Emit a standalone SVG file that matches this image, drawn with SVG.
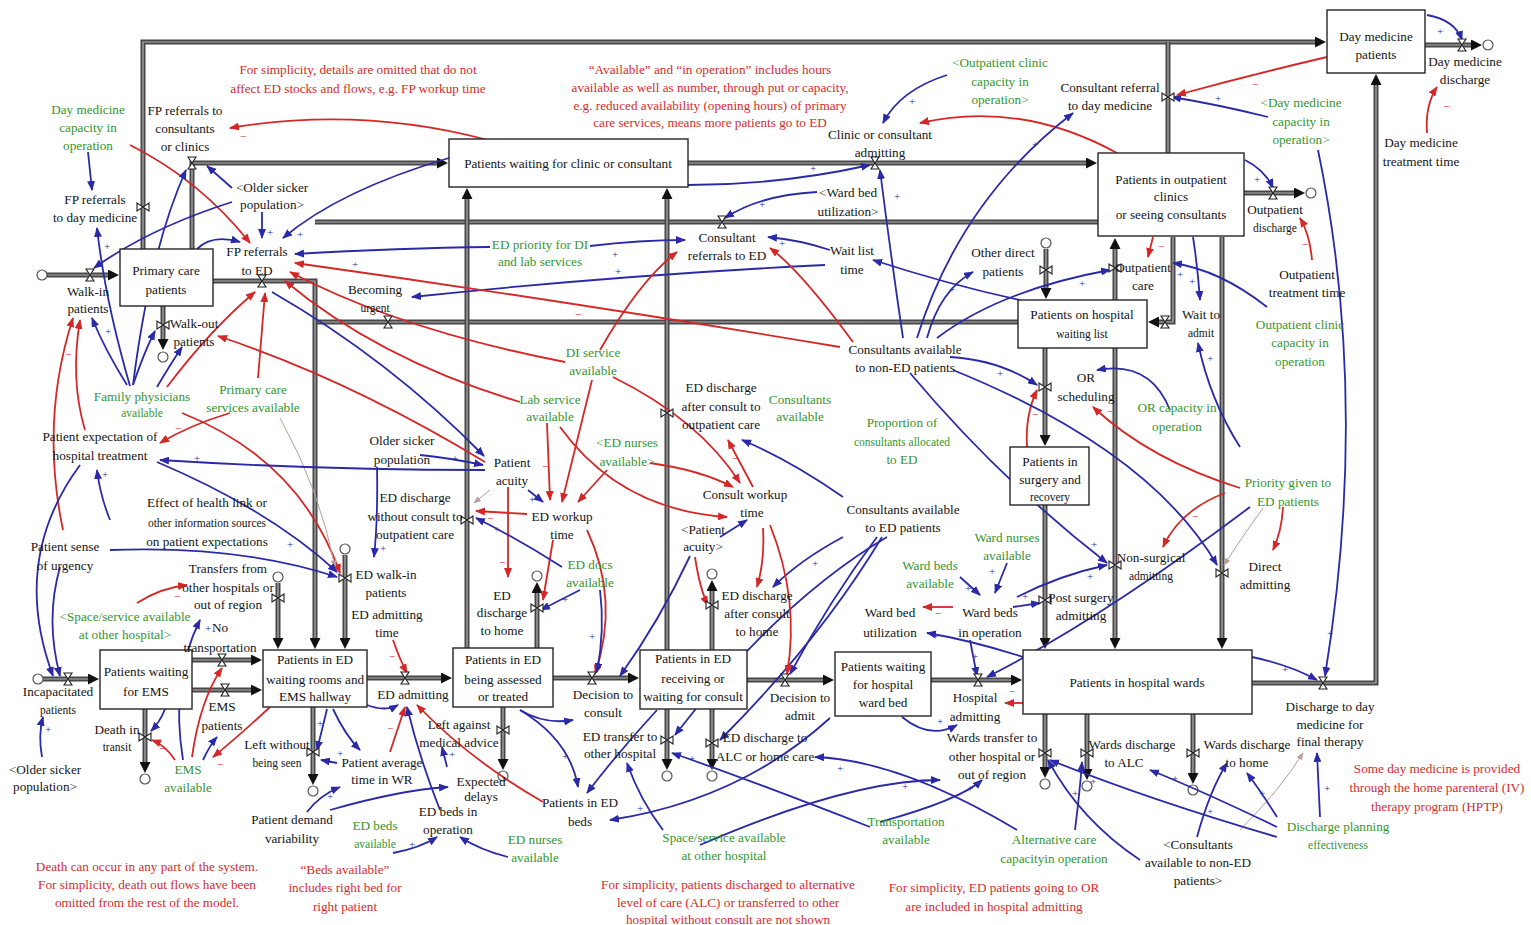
<svg xmlns="http://www.w3.org/2000/svg" width="1531" height="925" viewBox="0 0 1531 925">
<style>
text{font-family:"Liberation Serif","Times New Roman",serif;font-size:13.2px;text-anchor:middle;fill:#141414}
.g{fill:#35952f}
.n{fill:#d42c2c;font-size:13.2px}
.sm{font-size:11.5px}
.stock{fill:#fff;stroke:#262626;stroke-width:1.4}
.po{fill:none;stroke:#474747;stroke-width:5;marker-end:url(#ap)}
.pn{fill:none;stroke:#474747;stroke-width:5}
.pi{fill:none;stroke:#b4b4b4;stroke-width:1.2;marker-end:none}
.cl{fill:#fff;stroke:#555;stroke-width:1.2}
.lb{fill:none;stroke:#2a2aa8;stroke-width:1.8;marker-end:url(#ab)}
.lr{fill:none;stroke:#d42828;stroke-width:1.8;marker-end:url(#ar)}
.lg{fill:none;stroke:#b89c9c;stroke-width:1;marker-end:url(#ag)}
.sp{fill:#2a2aa8;font-size:11px}
.sn{fill:#d42828;font-size:11px}
.vl{fill:#fff;stroke:#1e1e1e;stroke-width:1.1}
</style>
<defs>
<marker id="ab" viewBox="0 0 10 8" refX="9" refY="4" markerWidth="10" markerHeight="8" markerUnits="userSpaceOnUse" orient="auto"><path d="M0,0 L10,4 L0,8 z" fill="#2a2aa8"/></marker>
<marker id="ar" viewBox="0 0 10 8" refX="9" refY="4" markerWidth="10" markerHeight="8" markerUnits="userSpaceOnUse" orient="auto"><path d="M0,0 L10,4 L0,8 z" fill="#d42828"/></marker>
<marker id="ag" viewBox="0 0 10 8" refX="9" refY="4" markerWidth="8" markerHeight="6" markerUnits="userSpaceOnUse" orient="auto"><path d="M0,0 L10,4 L0,8 z" fill="#b89c9c"/></marker>
<marker id="ap" viewBox="0 0 10 10" refX="0" refY="5" markerWidth="12" markerHeight="11" markerUnits="userSpaceOnUse" orient="auto"><path d="M0,0 L10,5 L0,10 z" fill="#111"/></marker>
<path id="vh" d="M-4,-6 H4 L-4,6 H4 Z"/>
<path id="vv" d="M-6,-4 V4 L6,-4 V4 Z"/>
<path id="p1" d="M47,275 H108"/>
<path id="p2" d="M163,306 V339"/>
<path id="p3" d="M143,249 V42 H1315"/>
<path id="p4" d="M192,249 V163 H437"/>
<path id="p5" d="M213,281 H315 V638"/>
<path id="p6" d="M688,163 H1086"/>
<path id="p7" d="M1098,222 H315"/>
<path id="p8" d="M1018,322 H315"/>
<path id="p9" d="M467,648 V199"/>
<path id="p10" d="M667,650 V199"/>
<path id="p11" d="M1168,153 V42"/>
<path id="p12" d="M1425,45 H1471"/>
<path id="p13" d="M1244,193 H1294"/>
<path id="p14" d="M1046,249 V288"/>
<path id="p15" d="M1115,300 V249"/>
<path id="p16" d="M1173,237 V322 H1159"/>
<path id="p17" d="M1045,348 V435"/>
<path id="p18" d="M1045,505 V638"/>
<path id="p19" d="M1115,348 V638"/>
<path id="p20" d="M1222,237 V638"/>
<path id="p21" d="M1252,683 H1376 V85"/>
<path id="p22" d="M43,679 H88"/>
<path id="p23" d="M192,660 H251"/>
<path id="p24" d="M192,690 H251"/>
<path id="p25" d="M145,709 V762"/>
<path id="p26" d="M278,583 V638"/>
<path id="p27" d="M345,555 V638"/>
<path id="p28" d="M313,707 V774"/>
<path id="p29" d="M367,678 H441"/>
<path id="p30" d="M503,707 V759"/>
<path id="p31" d="M537,648 V593"/>
<path id="p32" d="M553,678 H628"/>
<path id="p33" d="M712,650 V591"/>
<path id="p34" d="M667,709 V759"/>
<path id="p35" d="M712,709 V759"/>
<path id="p36" d="M747,680 H823"/>
<path id="p37" d="M931,680 H1011"/>
<path id="p38" d="M1045,714 V767"/>
<path id="p39" d="M1087,714 V769"/>
<path id="p40" d="M1193,714 V773"/>
</defs>
<rect width="1531" height="925" fill="#fff"/>

<g id="pipes">
<use href="#p3" class="po"/><use href="#p3" class="pi"/>
<use href="#p7" class="pn"/><use href="#p7" class="pi"/>
<use href="#p8" class="pn"/><use href="#p8" class="pi"/>
<use href="#p11" class="pn"/><use href="#p11" class="pi"/>
<use href="#p1" class="po"/><use href="#p1" class="pi"/>
<use href="#p2" class="po"/><use href="#p2" class="pi"/>
<use href="#p4" class="po"/><use href="#p4" class="pi"/>
<use href="#p5" class="po"/><use href="#p5" class="pi"/>
<use href="#p6" class="po"/><use href="#p6" class="pi"/>
<use href="#p9" class="po"/><use href="#p9" class="pi"/>
<use href="#p10" class="po"/><use href="#p10" class="pi"/>
<use href="#p12" class="po"/><use href="#p12" class="pi"/>
<use href="#p13" class="po"/><use href="#p13" class="pi"/>
<use href="#p14" class="po"/><use href="#p14" class="pi"/>
<use href="#p15" class="po"/><use href="#p15" class="pi"/>
<use href="#p16" class="po"/><use href="#p16" class="pi"/>
<use href="#p17" class="po"/><use href="#p17" class="pi"/>
<use href="#p18" class="po"/><use href="#p18" class="pi"/>
<use href="#p19" class="po"/><use href="#p19" class="pi"/>
<use href="#p20" class="po"/><use href="#p20" class="pi"/>
<use href="#p21" class="po"/><use href="#p21" class="pi"/>
<use href="#p22" class="po"/><use href="#p22" class="pi"/>
<use href="#p23" class="po"/><use href="#p23" class="pi"/>
<use href="#p24" class="po"/><use href="#p24" class="pi"/>
<use href="#p25" class="po"/><use href="#p25" class="pi"/>
<use href="#p26" class="po"/><use href="#p26" class="pi"/>
<use href="#p27" class="po"/><use href="#p27" class="pi"/>
<use href="#p28" class="po"/><use href="#p28" class="pi"/>
<use href="#p29" class="po"/><use href="#p29" class="pi"/>
<use href="#p30" class="po"/><use href="#p30" class="pi"/>
<use href="#p31" class="po"/><use href="#p31" class="pi"/>
<use href="#p32" class="po"/><use href="#p32" class="pi"/>
<use href="#p33" class="po"/><use href="#p33" class="pi"/>
<use href="#p34" class="po"/><use href="#p34" class="pi"/>
<use href="#p35" class="po"/><use href="#p35" class="pi"/>
<use href="#p36" class="po"/><use href="#p36" class="pi"/>
<use href="#p37" class="po"/><use href="#p37" class="pi"/>
<use href="#p38" class="po"/><use href="#p38" class="pi"/>
<use href="#p39" class="po"/><use href="#p39" class="pi"/>
<use href="#p40" class="po"/><use href="#p40" class="pi"/>
<g class="cl">
<circle cx="42" cy="275" r="5"/><circle cx="163" cy="357" r="5"/><circle cx="1488" cy="45" r="5"/><circle cx="1311" cy="193" r="5"/><circle cx="1046" cy="243" r="5"/><circle cx="38" cy="679" r="5"/><circle cx="145" cy="779" r="5"/><circle cx="278" cy="577" r="5"/><circle cx="345" cy="549" r="5"/><circle cx="313" cy="791" r="5"/><circle cx="503" cy="776" r="5"/><circle cx="537" cy="576" r="5"/><circle cx="712" cy="574" r="5"/><circle cx="667" cy="776" r="5"/><circle cx="712" cy="776" r="5"/><circle cx="1045" cy="784" r="5"/><circle cx="1087" cy="786" r="5"/><circle cx="1193" cy="790" r="5"/>
</g>
</g>

<g id="connectors">
<path class="lb" d="M88,152 L92,190"/>
<path class="lr" d="M130,145 Q200,180 250,243"/>
<path class="lr" d="M488,140 Q360,106 230,128"/>
<path class="lb" d="M133,385 Q150,250 186,170"/>
<path class="lb" d="M232,188 L207,166"/>
<path class="lb" d="M262,212 L262,238"/>
<path class="lb" d="M232,202 Q150,228 94,268"/>
<path class="lb" d="M130,386 Q105,300 97,228"/>
<path class="lb" d="M197,249 Q212,234 240,242"/>
<path class="lb" d="M449,158 Q340,190 283,238"/>
<path class="lb" d="M490,247 Q400,248 295,254"/>
<path class="lb" d="M590,246 Q640,240 685,240"/>
<path class="lb" d="M825,265 Q620,275 412,297"/>
<path class="lr" d="M840,347 Q560,300 295,263"/>
<path class="lr" d="M565,362 Q400,330 290,272"/>
<path class="lr" d="M520,402 Q380,360 285,281"/>
<path class="lr" d="M485,462 Q350,380 218,336"/>
<path class="lb" d="M272,292 Q390,360 484,456"/>
<path class="lr" d="M63,530 Q40,420 73,318"/>
<path class="lr" d="M85,430 Q70,380 80,320"/>
<path class="lb" d="M127,385 Q105,350 92,318"/>
<path class="lb" d="M133,385 Q145,350 155,331"/>
<path class="lb" d="M157,387 Q170,365 182,347"/>
<path class="lr" d="M167,387 Q210,330 255,292"/>
<path class="lr" d="M258,378 Q262,330 265,293"/>
<path class="lr" d="M230,413 Q190,425 160,443"/>
<path class="lr" d="M182,413 Q300,460 340,573"/>
<path class="lg" d="M280,418 Q320,490 335,567"/>
<path class="lb" d="M110,520 Q100,495 97,470"/>
<path class="lb" d="M157,462 Q270,510 337,572"/>
<path class="lb" d="M485,470 Q320,470 160,460"/>
<path class="lb" d="M110,550 Q240,545 337,577"/>
<path class="lb" d="M80,465 Q10,560 53,676"/>
<path class="lb" d="M60,567 Q45,620 60,676"/>
<path class="lb" d="M42,757 Q38,735 43,717"/>
<path class="lr" d="M137,603 Q160,588 187,585"/>
<path class="lb" d="M420,455 Q450,458 483,465"/>
<path class="lb" d="M377,467 Q378,520 374,557"/>
<path class="lb" d="M165,709 Q160,722 151,731"/>
<path class="lr" d="M175,760 Q165,745 152,740"/>
<path class="lb" d="M183,760 Q170,680 200,620"/>
<path class="lr" d="M192,757 Q200,700 222,668"/>
<path class="lb" d="M203,760 Q210,745 217,737"/>
<path class="lr" d="M270,707 Q240,735 213,757"/>
<path class="lb" d="M327,709 Q322,730 317,750"/>
<path class="lb" d="M337,763 L321,760"/>
<path class="lb" d="M333,709 Q345,735 360,750"/>
<path class="lb" d="M307,812 Q320,795 340,787"/>
<path class="lb" d="M330,810 Q400,790 448,787"/>
<path class="lb" d="M393,853 Q420,848 437,837"/>
<path class="lb" d="M508,857 Q480,850 460,837"/>
<path class="lb" d="M440,810 Q420,760 407,707"/>
<path class="lb" d="M447,767 L442,747"/>
<path class="lr" d="M393,640 Q400,660 407,673"/>
<path class="lr" d="M390,752 L405,707"/>
<path class="lb" d="M367,705 Q385,712 398,705"/>
<path class="lr" d="M543,802 Q470,760 417,705"/>
<path class="lb" d="M520,710 Q545,725 573,720"/>
<path class="lb" d="M520,710 Q570,740 578,787"/>
<path class="lb" d="M657,710 Q620,750 587,793"/>
<path class="lb" d="M830,718 Q740,800 610,820"/>
<path class="lr" d="M592,380 L562,502"/>
<path class="lr" d="M547,423 L550,500"/>
<path class="lr" d="M607,470 L578,502"/>
<path class="lb" d="M528,490 L543,502"/>
<path class="lr" d="M560,427 Q620,510 727,517"/>
<path class="lr" d="M650,463 Q700,470 733,487"/>
<path class="lr" d="M613,377 Q700,420 740,483"/>
<path class="lr" d="M753,487 L728,440"/>
<path class="lb" d="M720,537 L747,520"/>
<path class="lb" d="M843,497 Q790,460 742,440"/>
<path class="lb" d="M843,537 Q800,560 773,587"/>
<path class="lb" d="M877,537 Q830,600 790,674"/>
<path class="lb" d="M882,537 Q820,640 720,740"/>
<path class="lb" d="M887,537 Q780,600 675,735"/>
<path class="lr" d="M770,525 Q800,600 787,674"/>
<path class="lr" d="M763,528 Q765,560 757,587"/>
<path class="lr" d="M553,540 L543,600"/>
<path class="lr" d="M587,530 Q620,600 595,674"/>
<path class="lr" d="M527,514 L476,511"/>
<path class="lg" d="M490,490 L474,503"/>
<path class="lr" d="M508,487 L508,577"/>
<path class="lb" d="M562,567 Q520,540 476,518"/>
<path class="lb" d="M580,590 Q560,600 541,610"/>
<path class="lb" d="M600,590 Q605,630 597,672"/>
<path class="lb" d="M690,556 Q660,620 620,676"/>
<path class="lr" d="M695,557 Q700,590 708,605"/>
<path class="lr" d="M1117,153 Q1020,100 920,123"/>
<path class="lb" d="M947,75 Q900,90 883,123"/>
<path class="lb" d="M903,338 Q890,250 880,170"/>
<path class="lb" d="M917,338 Q960,200 1073,113"/>
<path class="lb" d="M927,338 Q940,290 973,272"/>
<path class="lb" d="M937,338 Q1000,290 1110,270"/>
<path class="lb" d="M1020,300 Q950,285 873,260"/>
<path class="lb" d="M830,250 Q800,240 768,237"/>
<path class="lb" d="M817,192 Q760,195 725,218"/>
<path class="lb" d="M688,185 Q780,185 870,165"/>
<path class="lr" d="M853,342 Q800,270 770,248"/>
<path class="lr" d="M600,350 Q640,280 677,252"/>
<path class="lr" d="M1027,447 Q1025,415 1037,390"/>
<path class="lb" d="M950,357 Q1000,360 1037,385"/>
<path class="lb" d="M1170,410 Q1150,360 1097,370"/>
<path class="lr" d="M1240,488 Q1150,460 1093,407"/>
<path class="lr" d="M1225,493 Q1180,510 1163,547"/>
<path class="lr" d="M1283,507 Q1282,530 1273,550"/>
<path class="lg" d="M1263,508 Q1240,540 1224,565"/>
<path class="lb" d="M910,373 Q1000,480 1107,563"/>
<path class="lb" d="M953,370 Q1150,450 1217,565"/>
<path class="lb" d="M1017,597 Q1060,575 1107,565"/>
<path class="lb" d="M1007,563 L995,593"/>
<path class="lb" d="M960,577 L980,595"/>
<path class="lr" d="M953,607 L923,607"/>
<path class="lb" d="M1013,607 L1040,603"/>
<path class="lb" d="M1023,657 Q970,640 927,633"/>
<path class="lb" d="M970,640 L977,676"/>
<path class="lb" d="M1250,507 Q1100,620 987,677"/>
<path class="lr" d="M1023,703 L1005,703"/>
<path class="lb" d="M902,717 Q930,740 957,725"/>
<path class="lb" d="M880,822 Q960,800 982,780"/>
<path class="lb" d="M700,845 Q850,780 940,780"/>
<path class="lb" d="M870,827 Q750,780 672,753"/>
<path class="lb" d="M663,830 Q640,800 627,763"/>
<path class="lb" d="M1017,830 Q900,760 815,757"/>
<path class="lb" d="M1075,830 Q1080,790 1082,762"/>
<path class="lb" d="M1197,837 Q1210,790 1227,763"/>
<path class="lb" d="M1140,860 Q1080,820 1048,760"/>
<path class="lg" d="M1240,830 Q1280,790 1303,753"/>
<path class="lb" d="M1320,817 L1317,753"/>
<path class="lb" d="M1277,817 Q1260,790 1247,773"/>
<path class="lb" d="M1277,827 Q1200,790 1150,770"/>
<path class="lb" d="M1277,837 Q1150,800 1050,760"/>
<path class="lb" d="M1252,657 Q1290,665 1317,680"/>
<path class="lb" d="M1318,150 Q1370,400 1325,676"/>
<path class="lb" d="M1268,117 Q1220,105 1172,97"/>
<path class="lr" d="M1327,57 Q1250,75 1177,95"/>
<path class="lb" d="M1427,15 Q1455,20 1462,40"/>
<path class="lr" d="M1427,133 Q1425,105 1437,87"/>
<path class="lb" d="M1245,160 Q1265,170 1273,188"/>
<path class="lr" d="M1312,260 Q1310,235 1300,218"/>
<path class="lr" d="M1153,237 L1148,257"/>
<path class="lb" d="M1193,237 Q1198,270 1200,300"/>
<path class="lb" d="M1267,307 Q1220,270 1173,263"/>
<path class="lb" d="M1240,447 Q1210,400 1198,343"/>
</g>

<g id="polarities">
<text class="sn" x="243" y="140">−</text><text class="sp" x="270" y="236">+</text><text class="sp" x="107" y="250">+</text><text class="sp" x="300" y="238">+</text><text class="sp" x="355" y="268">+</text><text class="sp" x="615" y="258">+</text><text class="sp" x="618" y="275">+</text><text class="sn" x="578" y="318">−</text><text class="sn" x="68" y="358">−</text><text class="sp" x="108" y="335">+</text><text class="sn" x="178" y="432">−</text><text class="sp" x="105" y="478">+</text><text class="sp" x="197" y="462">+</text><text class="sp" x="290" y="548">+</text><text class="sp" x="48" y="733">+</text><text class="sn" x="177" y="600">−</text><text class="sp" x="455" y="462">+</text><text class="sp" x="383" y="552">+</text><text class="sn" x="162" y="752">−</text><text class="sp" x="208" y="632">+</text><text class="sn" x="220" y="768">−</text><text class="sp" x="320" y="727">+</text><text class="sp" x="340" y="757">+</text><text class="sp" x="330" y="800">+</text><text class="sp" x="412" y="848">+</text><text class="sp" x="452" y="758">+</text><text class="sn" x="392" y="660">−</text><text class="sn" x="390" y="732">−</text><text class="sp" x="565" y="760">+</text><text class="sp" x="640" y="812">+</text><text class="sn" x="545" y="470">−</text><text class="sp" x="532" y="503">+</text><text class="sn" x="735" y="462">−</text><text class="sp" x="815" y="567">+</text><text class="sn" x="490" y="522">−</text><text class="sn" x="502" y="566">−</text><text class="sp" x="497" y="533">+</text><text class="sp" x="565" y="603">+</text><text class="sp" x="592" y="640">+</text><text class="sp" x="912" y="105">+</text><text class="sp" x="897" y="200">+</text><text class="sp" x="1035" y="148">+</text><text class="sp" x="952" y="293">+</text><text class="sp" x="1082" y="287">+</text><text class="sp" x="782" y="247">+</text><text class="sp" x="762" y="208">+</text><text class="sp" x="813" y="172">+</text><text class="sn" x="1035" y="418">−</text><text class="sp" x="1000" y="377">+</text><text class="sn" x="1110" y="415">−</text><text class="sn" x="1195" y="520">−</text><text class="sp" x="1094" y="548">+</text><text class="sp" x="1090" y="580">+</text><text class="sp" x="992" y="575">+</text><text class="sp" x="968" y="592">+</text><text class="sn" x="938" y="617">−</text><text class="sp" x="1025" y="600">+</text><text class="sp" x="935" y="640">+</text><text class="sp" x="975" y="660">+</text><text class="sn" x="1012" y="695">−</text><text class="sp" x="940" y="725">+</text><text class="sp" x="970" y="792">+</text><text class="sp" x="905" y="790">+</text><text class="sp" x="692" y="762">+</text><text class="sp" x="840" y="772">+</text><text class="sp" x="1093" y="785">+</text><text class="sp" x="1210" y="815">+</text><text class="sp" x="1075" y="797">+</text><text class="sp" x="1327" y="792">+</text><text class="sp" x="1262" y="797">+</text><text class="sp" x="1175" y="782">+</text><text class="sp" x="1285" y="673">+</text><text class="sp" x="1330" y="637">+</text><text class="sp" x="1218" y="102">+</text><text class="sn" x="1255" y="88">−</text><text class="sp" x="1440" y="35">+</text><text class="sn" x="1446" y="110">−</text><text class="sp" x="1257" y="183">+</text><text class="sn" x="1305" y="248">−</text><text class="sn" x="1161" y="250">−</text><text class="sp" x="1192" y="285">+</text><text class="sp" x="1180" y="278">+</text><text class="sp" x="1210" y="362">+</text>
</g>

<g id="stock-primary-care"><rect class="stock" x="120" y="249" width="93" height="57"/><text x="166" y="275">Primary care</text><text x="166" y="294">patients</text></g>
<g id="stock-waiting-clinic"><rect class="stock" x="449" y="139" width="239" height="48"/><text x="568" y="168">Patients waiting for clinic or consultant</text></g>
<g id="stock-day-medicine"><rect class="stock" x="1327" y="10" width="98" height="63"/><text x="1376" y="41">Day medicine</text><text x="1376" y="59">patients</text></g>
<g id="stock-outpatient"><rect class="stock" x="1098" y="153" width="146" height="83"/><text x="1171" y="184">Patients in outpatient</text><text x="1171" y="201">clinics</text><text x="1171" y="219">or seeing consultants</text></g>
<g id="stock-waiting-list"><rect class="stock" x="1018" y="300" width="129" height="48"/><text x="1082" y="319">Patients on hospital</text><text class="sm" x="1082" y="338">waiting list</text></g>
<g id="stock-surgery"><rect class="stock" x="1010" y="447" width="79" height="58"/><text x="1050" y="466">Patients in</text><text x="1050" y="484">surgery and</text><text class="sm" x="1050" y="501">recovery</text></g>
<g id="stock-waiting-ems"><rect class="stock" x="100" y="650" width="92" height="59"/><text x="146" y="676">Patients waiting</text><text x="146" y="696">for EMS</text></g>
<g id="stock-ed-waiting"><rect class="stock" x="263" y="650" width="104" height="57"/><text x="315" y="664">Patients in ED</text><text x="315" y="684">waiting rooms and</text><text x="315" y="701">EMS hallway</text></g>
<g id="stock-ed-assessed"><rect class="stock" x="453" y="648" width="100" height="59"/><text x="503" y="664">Patients in ED</text><text x="503" y="684">being assessed</text><text x="503" y="701">or treated</text></g>
<g id="stock-ed-consult"><rect class="stock" x="640" y="650" width="107" height="59"/><text x="693" y="663">Patients in ED</text><text x="693" y="683">receiving or</text><text x="693" y="701">waiting for consult</text></g>
<g id="stock-waiting-ward"><rect class="stock" x="835" y="652" width="96" height="64"/><text x="883" y="671">Patients waiting</text><text x="883" y="689">for hospital</text><text x="883" y="707">ward bed</text></g>
<g id="stock-wards"><rect class="stock" x="1023" y="650" width="229" height="64"/><text x="1137" y="687">Patients in hospital wards</text></g>

<g id="valves" class="vl">
<use href="#vh" x="90" y="275"/><use href="#vv" x="163" y="325"/><use href="#vv" x="143" y="207"/><use href="#vh" x="192" y="163"/><use href="#vh" x="262" y="281"/><use href="#vh" x="875" y="163"/><use href="#vh" x="722" y="222"/><use href="#vh" x="388" y="322"/><use href="#vv" x="467" y="520"/><use href="#vv" x="667" y="413"/><use href="#vv" x="1168" y="97"/><use href="#vh" x="1462" y="45"/><use href="#vh" x="1273" y="193"/><use href="#vv" x="1046" y="270"/><use href="#vv" x="1115" y="268"/><use href="#vh" x="1165" y="322"/><use href="#vv" x="1045" y="387"/><use href="#vv" x="1045" y="600"/><use href="#vv" x="1115" y="565"/><use href="#vv" x="1222" y="573"/><use href="#vh" x="1323" y="683"/><use href="#vh" x="68" y="679"/><use href="#vh" x="222" y="660"/><use href="#vh" x="225" y="690"/><use href="#vv" x="145" y="737"/><use href="#vv" x="278" y="598"/><use href="#vv" x="345" y="578"/><use href="#vv" x="313" y="752"/><use href="#vh" x="405" y="678"/><use href="#vv" x="503" y="730"/><use href="#vv" x="537" y="608"/><use href="#vh" x="592" y="678"/><use href="#vv" x="712" y="605"/><use href="#vv" x="667" y="740"/><use href="#vv" x="712" y="743"/><use href="#vh" x="785" y="680"/><use href="#vh" x="978" y="680"/><use href="#vv" x="1045" y="753"/><use href="#vv" x="1087" y="753"/><use href="#vv" x="1193" y="753"/>
</g>

<g id="var-fp-consultants"><text x="185" y="115">FP referrals to</text><text x="185" y="133">consultants</text><text x="185" y="151">or clinics</text></g>
<g id="var-fp-daymed"><text x="95" y="204">FP referrals</text><text x="95" y="222">to day medicine</text></g>
<g id="var-walkin"><text x="88" y="296">Walk-in</text><text x="88" y="313">patients</text></g>
<g id="var-older-1"><text x="272" y="192">&lt;Older sicker</text><text x="272" y="209">population&gt;</text></g>
<g id="var-fp-ed"><text x="257" y="256">FP referrals</text><text x="257" y="275">to ED</text></g>
<g id="var-becoming-urgent"><text x="375" y="294">Becoming</text><text class="sm" x="375" y="312">urgent</text></g>
<g id="var-walkout"><text x="194" y="328">Walk-out</text><text x="194" y="346">patients</text></g>
<g id="var-consultant-ref-ed"><text x="727" y="242">Consultant</text><text x="727" y="260">referrals to ED</text></g>
<g id="var-wait-list-time"><text x="852" y="255">Wait list</text><text x="852" y="274">time</text></g>
<g id="var-ward-util-1"><text x="848" y="197">&lt;Ward bed</text><text x="848" y="216">utilization&gt;</text></g>
<g id="var-clinic-admitting"><text x="880" y="139">Clinic or consultant</text><text x="880" y="157">admitting</text></g>
<g id="var-consultant-ref-dm"><text x="1110" y="92">Consultant referral</text><text x="1110" y="110">to day medicine</text></g>
<g id="var-dm-discharge"><text x="1465" y="66">Day medicine</text><text x="1465" y="84">discharge</text></g>
<g id="var-dm-time"><text x="1421" y="147">Day medicine</text><text x="1421" y="166">treatment time</text></g>
<g id="var-op-discharge"><text x="1275" y="214">Outpatient</text><text class="sm" x="1275" y="232">discharge</text></g>
<g id="var-op-time"><text x="1307" y="279">Outpatient</text><text x="1307" y="297">treatment time</text></g>
<g id="var-other-direct"><text x="1003" y="257">Other direct</text><text x="1003" y="276">patients</text></g>
<g id="var-outpatient-care"><text x="1143" y="272">Outpatient</text><text x="1143" y="290">care</text></g>
<g id="var-wait-admit"><text x="1201" y="319">Wait to</text><text class="sm" x="1201" y="337">admit</text></g>
<g id="var-cons-nonED"><text x="905" y="354">Consultants available</text><text x="905" y="372">to non-ED patients</text></g>
<g id="var-or-scheduling"><text x="1086" y="382">OR</text><text x="1086" y="401">scheduling</text></g>
<g id="var-ed-after-op"><text x="721" y="392">ED discharge</text><text x="721" y="411">after consult to</text><text x="721" y="429">outpatient care</text></g>
<g id="var-consult-workup"><text x="745" y="499">Consult workup</text><text x="752" y="517">time</text></g>
<g id="var-cons-ED"><text x="903" y="514">Consultants available</text><text x="903" y="532">to ED patients</text></g>
<g id="var-acuity-2"><text x="703" y="534">&lt;Patient</text><text x="703" y="551">acuity&gt;</text></g>
<g id="var-ed-after-home"><text x="757" y="600">ED discharge</text><text x="757" y="618">after consult</text><text x="757" y="636">to home</text></g>
<g id="var-older-2"><text x="402" y="445">Older sicker</text><text x="402" y="464">population</text></g>
<g id="var-acuity"><text x="512" y="467">Patient</text><text x="512" y="485">acuity</text></g>
<g id="var-ed-noconsult-op"><text x="415" y="502">ED discharge</text><text x="415" y="521">without consult to</text><text x="415" y="539">outpatient care</text></g>
<g id="var-ed-workup"><text x="562" y="521">ED workup</text><text x="562" y="539">time</text></g>
<g id="var-ed-walkin"><text x="386" y="579">ED walk-in</text><text x="386" y="597">patients</text></g>
<g id="var-ed-admit-time"><text x="387" y="619">ED admitting</text><text x="387" y="637">time</text></g>
<g id="var-ed-home"><text x="502" y="600">ED</text><text x="502" y="617">discharge</text><text x="502" y="635">to home</text></g>
<g id="var-expectation"><text x="100" y="441">Patient expectation of</text><text x="100" y="460">hospital treatment</text></g>
<g id="var-health-link"><text x="207" y="507">Effect of health link or</text><text class="sm" x="207" y="527">other information sources</text><text x="207" y="546">on patient expectations</text></g>
<g id="var-urgency"><text x="65" y="551">Patient sense</text><text x="65" y="570">of urgency</text></g>
<g id="var-transfers"><text x="228" y="573">Transfers from</text><text x="228" y="592">other hospitals or</text><text x="228" y="609">out of region</text></g>
<g id="var-no-transport"><text x="220" y="632">No</text><text x="220" y="652">transportation</text></g>
<g id="var-incapacitated"><text x="58" y="696">Incapacitated</text><text class="sm" x="58" y="714">patients</text></g>
<g id="var-death"><text x="117" y="734">Death in</text><text class="sm" x="117" y="751">transit</text></g>
<g id="var-ems-patients"><text x="222" y="711">EMS</text><text x="222" y="730">patients</text></g>
<g id="var-older-3"><text x="45" y="774">&lt;Older sicker</text><text x="45" y="791">population&gt;</text></g>
<g id="var-lwbs"><text x="277" y="749">Left without</text><text class="sm" x="277" y="767">being seen</text></g>
<g id="var-avg-time-wr"><text x="382" y="767">Patient average</text><text x="382" y="784">time in WR</text></g>
<g id="var-ed-admitting"><text x="413" y="699">ED admitting</text></g>
<g id="var-lama"><text x="459" y="729">Left against</text><text x="459" y="747">medical advice</text></g>
<g id="var-expected-delays"><text x="481" y="786">Expected</text><text x="481" y="801">delays</text></g>
<g id="var-ed-beds-op"><text x="448" y="816">ED beds in</text><text x="448" y="834">operation</text></g>
<g id="var-demand-var"><text x="292" y="824">Patient demand</text><text x="292" y="843">variability</text></g>
<g id="var-decision-consult"><text x="603" y="699">Decision to</text><text x="603" y="717">consult</text></g>
<g id="var-ed-transfer"><text x="620" y="741">ED transfer to</text><text x="620" y="758">other hospital</text></g>
<g id="var-ed-beds-patients"><text x="580" y="807">Patients in ED</text><text x="580" y="826">beds</text></g>
<g id="var-decision-admit"><text x="800" y="702">Decision to</text><text x="800" y="720">admit</text></g>
<g id="var-ed-alc"><text x="765" y="742">ED discharge to</text><text x="765" y="761">ALC or home care</text></g>
<g id="var-ward-util"><text x="890" y="617">Ward bed</text><text x="890" y="637">utilization</text></g>
<g id="var-ward-beds-op"><text x="990" y="617">Ward beds</text><text x="990" y="637">in operation</text></g>
<g id="var-post-surgery"><text x="1081" y="602">Post surgery</text><text x="1081" y="620">admitting</text></g>
<g id="var-non-surgical"><text x="1151" y="562">Non-surgical</text><text class="sm" x="1151" y="580">admitting</text></g>
<g id="var-direct-admitting"><text x="1265" y="571">Direct</text><text x="1265" y="589">admitting</text></g>
<g id="var-hospital-admitting"><text x="975" y="702">Hospital</text><text x="975" y="721">admitting</text></g>
<g id="var-wards-transfer"><text x="992" y="742">Wards transfer to</text><text x="992" y="761">other hospital or</text><text x="992" y="779">out of region</text></g>
<g id="var-wards-alc"><text x="1132" y="749">Wards discharge</text><text x="1124" y="767">to ALC</text></g>
<g id="var-wards-home"><text x="1247" y="749">Wards discharge</text><text x="1247" y="767">to home</text></g>
<g id="var-discharge-dm"><text x="1330" y="711">Discharge to day</text><text x="1330" y="729">medicine for</text><text x="1330" y="746">final therapy</text></g>
<g id="var-cons-nonED-2"><text x="1198" y="849">&lt;Consultants</text><text x="1198" y="867">available to non-ED</text><text x="1198" y="885">patients&gt;</text></g>

<g id="res-dm-capacity"><text class="g" x="88" y="114">Day medicine</text><text class="g" x="88" y="132">capacity in</text><text class="g" x="88" y="150">operation</text></g>
<g id="res-ed-priority"><text class="g" x="540" y="249">ED priority for DI</text><text class="g" x="540" y="266">and lab services</text></g>
<g id="res-op-capacity-2"><text class="g" x="1000" y="67">&lt;Outpatient clinic</text><text class="g" x="1000" y="86">capacity in</text><text class="g" x="1000" y="104">operation&gt;</text></g>
<g id="res-dm-capacity-2"><text class="g" x="1301" y="107">&lt;Day medicine</text><text class="g" x="1301" y="126">capacity in</text><text class="g" x="1301" y="144">operation&gt;</text></g>
<g id="res-op-capacity"><text class="g" x="1300" y="329">Outpatient clinic</text><text class="g" x="1300" y="347">capacity in</text><text class="g" x="1300" y="366">operation</text></g>
<g id="res-family-phys"><text class="g" x="142" y="401">Family physicians</text><text class="g sm" x="142" y="417">available</text></g>
<g id="res-primary-care"><text class="g" x="253" y="394">Primary care</text><text class="g" x="253" y="412">services available</text></g>
<g id="res-di"><text class="g" x="593" y="357">DI service</text><text class="g" x="593" y="375">available</text></g>
<g id="res-lab"><text class="g" x="550" y="404">Lab service</text><text class="g" x="550" y="421">available</text></g>
<g id="res-ed-nurses-2"><text class="g" x="627" y="447">&lt;ED nurses</text><text class="g" x="627" y="466">available&gt;</text></g>
<g id="res-consultants"><text class="g" x="800" y="404">Consultants</text><text class="g" x="800" y="421">available</text></g>
<g id="res-proportion"><text class="g" x="902" y="427">Proportion of</text><text class="g sm" x="902" y="446">consultants allocated</text><text class="g" x="902" y="464">to ED</text></g>
<g id="res-or-capacity"><text class="g" x="1177" y="412">OR capacity in</text><text class="g" x="1177" y="431">operation</text></g>
<g id="res-priority"><text class="g" x="1288" y="487">Priority given to</text><text class="g" x="1288" y="506">ED patients</text></g>
<g id="res-ward-nurses"><text class="g" x="1007" y="542">Ward nurses</text><text class="g" x="1007" y="560">available</text></g>
<g id="res-ward-beds"><text class="g" x="930" y="570">Ward beds</text><text class="g" x="930" y="588">available</text></g>
<g id="res-ed-docs"><text class="g" x="590" y="569">ED docs</text><text class="g" x="590" y="587">available</text></g>
<g id="res-space-2"><text class="g" x="125" y="621">&lt;Space/service available</text><text class="g" x="125" y="639">at other hospital&gt;</text></g>
<g id="res-ems"><text class="g" x="188" y="774">EMS</text><text class="g" x="188" y="792">available</text></g>
<g id="res-ed-beds"><text class="g" x="375" y="830">ED beds</text><text class="g sm" x="375" y="848">available</text></g>
<g id="res-ed-nurses"><text class="g" x="535" y="844">ED nurses</text><text class="g" x="535" y="862">available</text></g>
<g id="res-space"><text class="g" x="724" y="842">Space/service available</text><text class="g" x="724" y="860">at other hospital</text></g>
<g id="res-transport"><text class="g" x="906" y="826">Transportation</text><text class="g" x="906" y="844">available</text></g>
<g id="res-alt-care"><text class="g" x="1054" y="844">Alternative care</text><text class="g" x="1054" y="863">capacityin operation</text></g>
<g id="res-discharge-planning"><text class="g" x="1338" y="831">Discharge planning</text><text class="g sm" x="1338" y="849">effectiveness</text></g>

<g id="note-details"><text class="n" x="358" y="74">For simplicity, details are omitted that do not</text><text class="n" x="358" y="93">affect ED stocks and flows, e.g. FP workup time</text></g>
<g id="note-available"><text class="n" x="710" y="74">“Available” and “in operation” includes hours</text><text class="n" x="710" y="92">available as well as number, through put or capacity,</text><text class="n" x="710" y="110">e.g. reduced availability (opening hours) of primary</text><text class="n" x="710" y="127">care services, means more patients go to ED</text></g>
<g id="note-death"><text class="n" x="147" y="871">Death can occur in any part of the system.</text><text class="n" x="147" y="889">For simplicity, death out flows have been</text><text class="n" x="147" y="907">omitted from the rest of the model.</text></g>
<g id="note-beds"><text class="n" x="345" y="874">“Beds available”</text><text class="n" x="345" y="892">includes right bed for</text><text class="n" x="345" y="911">right patient</text></g>
<g id="note-alc"><text class="n" x="728" y="889">For simplicity, patients discharged to alternative</text><text class="n" x="728" y="907">level of care (ALC) or transferred to other</text><text class="n" x="728" y="924">hospital without consult are not shown</text></g>
<g id="note-or"><text class="n" x="994" y="892">For simplicity, ED patients going to OR</text><text class="n" x="994" y="911">are included in hospital admitting</text></g>
<g id="note-hptp"><text class="n" x="1437" y="773">Some day medicine is provided</text><text class="n" x="1437" y="792">through the home parenteral (IV)</text><text class="n" x="1437" y="811">therapy program (HPTP)</text></g>
</svg>
